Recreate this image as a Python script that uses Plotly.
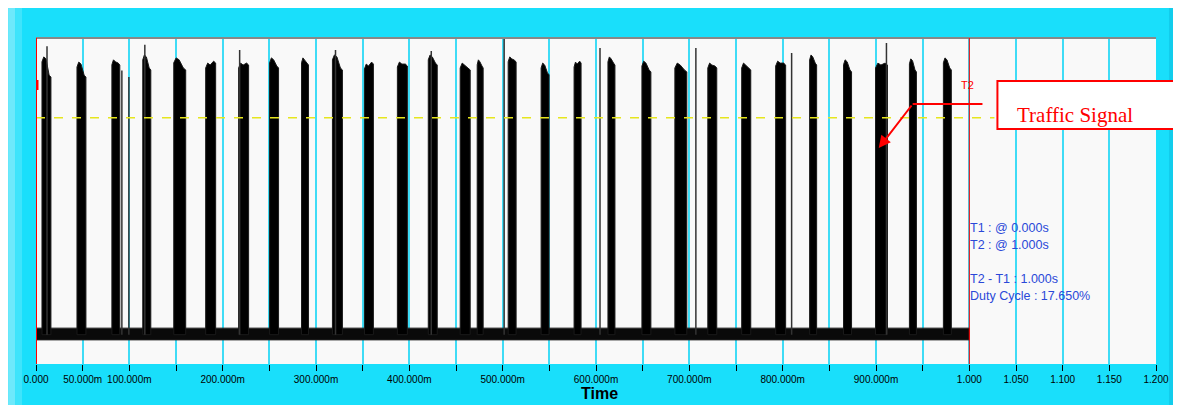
import plotly.graph_objects as go

# ---------------- data ----------------
# burst windows (seconds) and levels (normalised signal, 0..1 of the screen)
burst_start = [0.0064, 0.0439, 0.0813, 0.1144, 0.1476, 0.1818, 0.2171, 0.2503, 0.2845, 0.3176,
               0.3519, 0.3872, 0.4203, 0.4545, 0.4727, 0.5059, 0.5412, 0.5765, 0.6128, 0.6492,
               0.6845, 0.7198, 0.7561, 0.7925, 0.8289, 0.8652, 0.8995, 0.9358, 0.9722]
burst_end = [0.0160, 0.0535, 0.0898, 0.1230, 0.1604, 0.1925, 0.2278, 0.2599, 0.2920, 0.3283,
             0.3615, 0.3979, 0.4299, 0.4652, 0.4791, 0.5144, 0.5497, 0.5840, 0.6203, 0.6588,
             0.6973, 0.7294, 0.7658, 0.8032, 0.8364, 0.8738, 0.9123, 0.9433, 0.9807]
burst_peak = [0.942, 0.926, 0.933, 0.948, 0.939, 0.923, 0.923, 0.939, 0.939, 0.948,
              0.920, 0.926, 0.948, 0.923, 0.933, 0.942, 0.923, 0.926, 0.942, 0.929,
              0.923, 0.923, 0.923, 0.929, 0.948, 0.933, 0.923, 0.936, 0.939]
burst_tail = [0.880, 0.880, 0.917, 0.902, 0.902, 0.923, 0.917, 0.908, 0.917, 0.902,
              0.920, 0.914, 0.917, 0.902, 0.908, 0.926, 0.887, 0.923, 0.917, 0.896,
              0.896, 0.908, 0.902, 0.917, 0.917, 0.896, 0.917, 0.896, 0.902]
spike_t = [0.0118, 0.0920, 0.0995, 0.1166, 0.2182, 0.3209, 0.4235, 0.5016, 0.6043, 0.7070, 0.8096, 0.9112]
spike_top = [0.975, 0.900, 0.880, 0.979, 0.963, 0.963, 0.960, 1.000, 0.969, 0.969, 0.954, 0.985]
noise_low, noise_high = 0.074, 0.110
burst_base = 0.09
capture_end = 1.000
trigger_level = 0.755

tick_vals = [i * 0.05 for i in range(25)]
tick_text = ["0.000", "50.000m", "100.000m", "", "200.000m", "", "300.000m", "", "400.000m", "",
             "500.000m", "", "600.000m", "", "700.000m", "", "800.000m", "", "900.000m", "",
             "1.000", "1.050", "1.100", "1.150", "1.200"]
cursor_lines = ["T1 : @ 0.000s", "T2 : @ 1.000s", "", "T2 - T1 : 1.000s", "Duty Cycle : 17.650%"]

# ---------------- geometry helpers (page pixels -> paper fractions) ----------------
OFF = 8                      # page body margin
W, H = 1173, 397             # figure size
ML, MR, MT, MB = 28, 22, 30, 41
PW, PH = W - ML - MR, H - MT - MB


def px(x):
    return (x - OFF - ML) / PW


def py(y):
    return (H - MB - (y - OFF)) / PH


CYAN = "#19dffb"
GRID = "#3fdcf6"

fig = go.Figure()

# noise band (low level)
fig.add_trace(go.Scatter(x=[0, capture_end, capture_end, 0, 0],
                         y=[noise_low, noise_low, noise_high, noise_high, noise_low],
                         fill="toself", fillcolor="#0a0a0a", mode="lines",
                         line=dict(color="#222", width=1), hoverinfo="skip", showlegend=False))

# bursts
bx, by = [], []
for s, e, p, t in zip(burst_start, burst_end, burst_peak, burst_tail):
    w = e - s
    bx += [s, s, s + 0.2 * w, s + 0.45 * w, s + 0.8 * w, e, e, s, None]
    by += [burst_base, p - 0.015, p, p - 0.006, t + 0.006, t, burst_base, burst_base, None]
fig.add_trace(go.Scatter(x=bx, y=by, fill="toself", fillcolor="black", mode="lines",
                         line=dict(color="#1a1a1a", width=1), hoverinfo="skip", showlegend=False))

# spikes
sx, sy = [], []
for t, v in zip(spike_t, spike_top):
    sx += [t, t, None]
    sy += [burst_base, v, None]
fig.add_trace(go.Scatter(x=sx, y=sy, mode="lines", line=dict(color="#333", width=1.5),
                         hoverinfo="skip", showlegend=False))

shapes = []
# frame decorations
shapes.append(dict(type="rect", xref="paper", yref="paper", x0=px(8), x1=px(15), y0=py(420), y1=py(8),
                   fillcolor="#6ee9fb", line_width=0, layer="below"))
shapes.append(dict(type="rect", xref="paper", yref="paper", x0=px(15), x1=px(22), y0=py(420), y1=py(8),
                   fillcolor="#3fe4fb", line_width=0, layer="below"))
shapes.append(dict(type="rect", xref="paper", yref="paper", x0=px(1172), x1=px(1190), y0=py(420), y1=py(8),
                   fillcolor="#12cdec", line_width=0, layer="below"))
# plot top border
shapes.append(dict(type="line", xref="paper", yref="paper", x0=0, x1=1, y0=1, y1=1,
                   line=dict(color="#888", width=2)))
# trigger level
shapes.append(dict(type="line", xref="x", yref="y", x0=0, x1=px(997) * 1.2, y0=trigger_level, y1=trigger_level,
                   line=dict(color="#e6e61e", width=1.5, dash="dash")))
# cursors
shapes.append(dict(type="line", xref="x", yref="paper", x0=0, x1=0, y0=0, y1=1,
                   line=dict(color="red", width=2)))
shapes.append(dict(type="line", xref="x", yref="paper", x0=capture_end, x1=capture_end, y0=0, y1=1,
                   line=dict(color="red", width=1)))
shapes.append(dict(type="rect", xref="paper", yref="paper", x0=px(36), x1=px(38.5), y0=py(90), y1=py(80),
                   fillcolor="red", line_width=0))
# callout box and leader
shapes.append(dict(type="rect", xref="paper", yref="paper", x0=px(1000), x1=px(1200), y0=py(129), y1=py(81),
                   fillcolor="white", line=dict(color="red", width=2)))
shapes.append(dict(type="line", xref="paper", yref="paper", x0=px(915), x1=px(985), y0=py(104), y1=py(104),
                   line=dict(color="red", width=2)))

annotations = []
annotations.append(dict(xref="paper", yref="paper", x=px(881), y=py(148), ax=915 - 881, ay=104 - 148,
                        axref="pixel", ayref="pixel", text="", showarrow=True, arrowhead=2,
                        arrowsize=1.2, arrowwidth=2, arrowcolor="red"))
annotations.append(dict(xref="paper", yref="paper", x=px(1018), y=py(115), xanchor="left", yanchor="middle",
                        text="Traffic Signal", showarrow=False,
                        font=dict(family="Liberation Serif", size=21, color="red")))
annotations.append(dict(xref="paper", yref="paper", x=px(970), y=py(85), xanchor="center", yanchor="middle",
                        text="T2", showarrow=False, font=dict(family="Liberation Sans", size=11, color="red")))
cursor_y = [228, 245, 262, 279, 296]
for txt, yy in zip(cursor_lines, cursor_y):
    if txt:
        annotations.append(dict(xref="paper", yref="paper", x=px(970), y=py(yy), xanchor="left",
                                yanchor="middle", text=txt, showarrow=False,
                                font=dict(family="Liberation Sans", size=12.5, color="#2a48d8")))
annotations.append(dict(xref="paper", yref="paper", x=px(601), y=py(404), xanchor="center", yanchor="bottom",
                        text="<b>Time</b>", showarrow=False,
                        font=dict(family="Liberation Sans", size=16, color="black")))

fig.update_layout(
    width=W, height=H,
    margin=dict(l=ML, r=MR, t=MT, b=MB),
    paper_bgcolor=CYAN, plot_bgcolor="#f9f9f9",
    showlegend=False,
    shapes=shapes, annotations=annotations,
    xaxis=dict(range=[0, 1.2], tickmode="array", tickvals=tick_vals, ticktext=tick_text,
               showgrid=True, gridcolor=GRID, gridwidth=1.5, zeroline=False, showline=False,
               ticks="outside", ticklen=6, tickcolor="black", tickwidth=1,
               tickfont=dict(family="Liberation Sans", size=10, color="black"), fixedrange=True),
    yaxis=dict(range=[0, 1], visible=False, showgrid=False, zeroline=False, fixedrange=True),
)

fig.write_html("out.html")
